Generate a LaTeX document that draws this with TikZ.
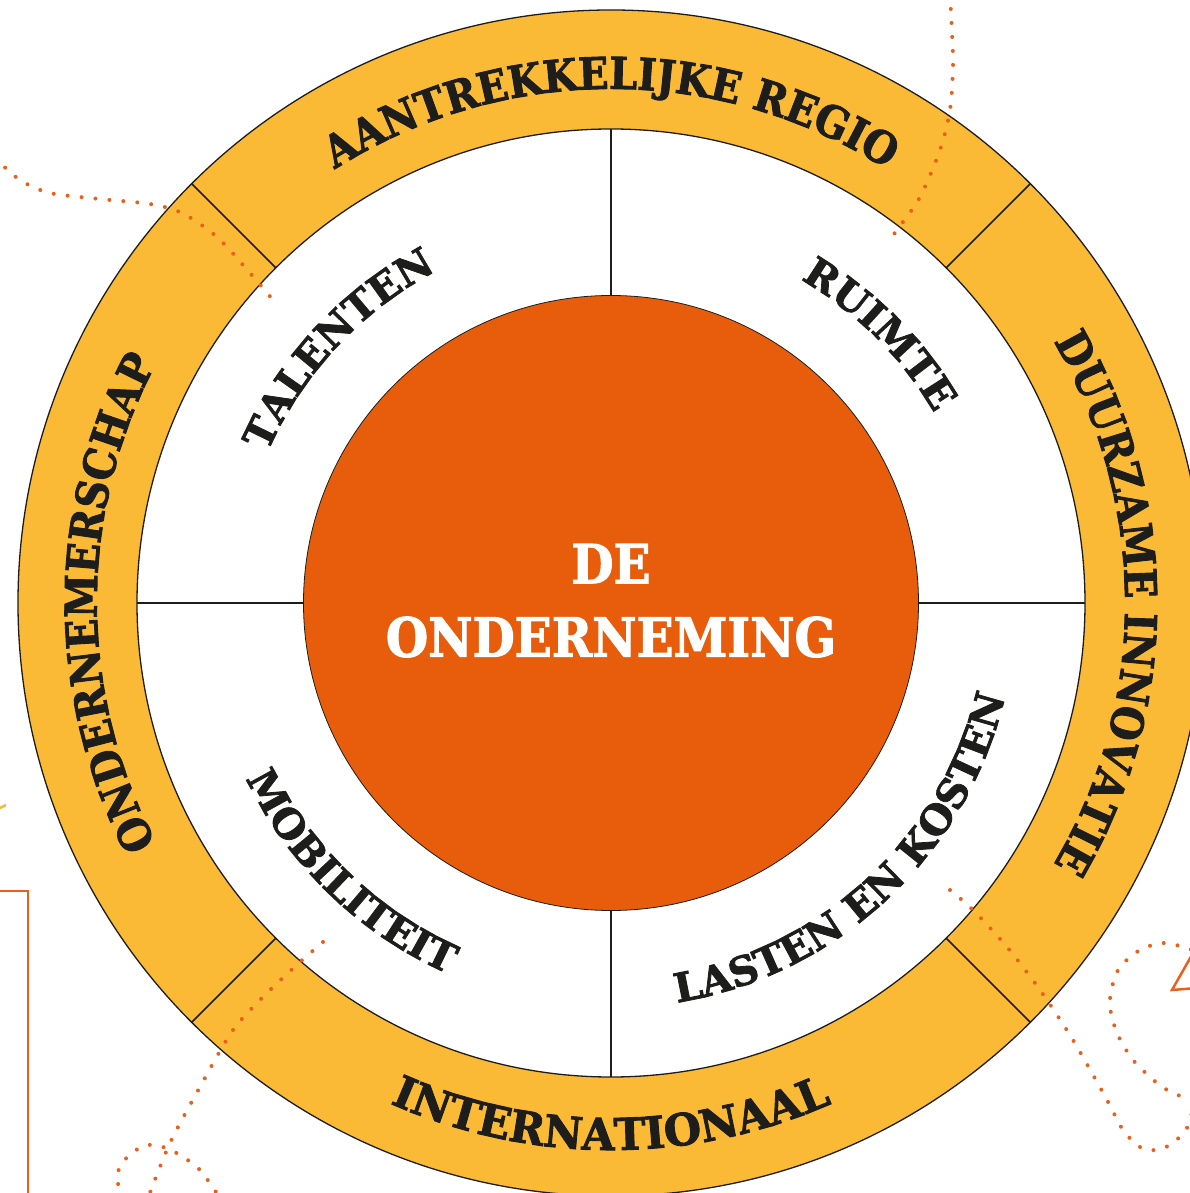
\documentclass[tikz,border=0pt]{standalone}
\usepackage{fontspec}
\newfontfamily\slab{DejaVu Serif}[FakeBold=2]
\newfontfamily\slabn{DejaVu Serif}[FakeStretch=0.9, FakeBold=2]
\newfontfamily\slabm{DejaVu Serif}[FakeStretch=0.97, FakeBold=2]
\usetikzlibrary{decorations.text}
\definecolor{ringyellow}{HTML}{FBBA36}
\definecolor{coreorange}{HTML}{E85D0C}
\definecolor{ink}{HTML}{1D1D1B}
\definecolor{dotorange}{HTML}{E8601C}
\newcommand\ringfont{\slabn\bfseries\fontsize{44}{44}\selectfont}
\newcommand\ringfontwide{\slabm\bfseries\fontsize{44}{44}\selectfont}
\newcommand\innerfont{\slab\bfseries\fontsize{40}{40}\selectfont}
\tikzset{
  ringtext/.style={decorate, decoration={text along path, text align=center, text color=ink, text={|\ringfont|#1}}},
  ringtextwide/.style={decorate, decoration={text along path, text align=center, text color=ink, text={|\ringfontwide|#1}}},
  innertext/.style={decorate, decoration={text along path, text align=center, text color=ink, text={|\innerfont|#1}}},
  divider/.style={draw=ink, line width=1.5pt},
  edge/.style={draw=ink, line width=1.3pt},
  centertext/.style={text=white, font=\slabn\bfseries\fontsize{54}{54}\selectfont, inner sep=0pt},
  dotline/.style={draw=dotorange, line width=4pt, line cap=round, dash pattern=on 0pt off 14pt},
  frameline/.style={draw=dotorange, line width=2.5pt}
}
\begin{document}
\begin{tikzpicture}[x=1pt,y=1pt]
\useasboundingbox (-611,-590) rectangle (578,603);
\fill[white] (-611,-590) rectangle (578,603);
% rings
\draw[edge, fill=ringyellow] (0,0) circle[radius=593];
\draw[edge, fill=white] (0,0) circle[radius=474];
\foreach \a in {45,135,225,315} \draw[divider] (\a:474) -- (\a:593);
\foreach \a in {0,90,180,270} \draw[divider] (\a:307.5) -- (\a:474);
\node[circle, fill=coreorange, draw=ink, line width=0.8pt, minimum size=615pt, inner sep=0pt] (core) at (0,0) {};
\node[centertext, anchor=base] (de) at (0,19.7) {DE};
\node[centertext, anchor=base] (onder) at (0,-53.7) {ONDERNEMING};
% outer ring labels
\path[ringtext={AANTREKKELIJKE REGIO}] (150:514) arc[start angle=150, end angle=30, radius=514];
\path[ringtext={DUURZAME INNOVATIE}] (60:514) arc[start angle=60, end angle=-60, radius=514];
\path[ringtext={ONDERNEMERSCHAP}] (240:514) arc[start angle=240, end angle=120, radius=514];
\path[ringtextwide={INTERNATIONAAL}] (220:547) arc[start angle=220, end angle=320, radius=547];
% inner ring labels
\path[innertext={TALENTEN}] (187:375) arc[start angle=187, end angle=87, radius=375];
\path[innertext={RUIMTE}] (95:375) arc[start angle=95, end angle=-5, radius=375];
\path[innertext={MOBILITEIT}] (176:405) arc[start angle=176, end angle=276, radius=405];
\path[innertext={LASTEN EN KOSTEN}] (263:405) arc[start angle=263, end angle=363, radius=405];
% decorations in pixel coordinates
\begin{scope}[shift={(-611,603)}, yscale=-1]
  \draw[dotline] plot[smooth] coordinates {(-5,158) (20,180) (50,193) (100,199) (150,204) (182,213) (217,237) (250,273) (273,300)};
  \draw[dotline] plot[smooth] coordinates {(950,-5) (952,33) (953,67) (950,110) (940,150) (920,197) (897,230) (887,243)};
  \draw[dotline] plot[smooth] coordinates {(323,942) (300,962) (267,993) (233,1030) (200,1087) (170,1143) (148,1198)};
  \draw[dotline] plot[smooth] coordinates {(119,1198) (118,1173) (123,1162) (133,1152) (147,1145) (163,1147) (180,1155) (200,1170) (220,1198)};
  \draw[dotline] plot[smooth] coordinates {(950,890) (973,910) (1007,947) (1040,990) (1073,1040) (1107,1100) (1123,1130) (1140,1147) (1157,1150) (1173,1143) (1187,1128) (1192,1112)};
  \draw[dotline] plot[smooth] coordinates {(1192,1100) (1173,1093) (1157,1083) (1133,1060) (1117,1033) (1110,1007) (1112,987) (1120,967) (1140,950) (1163,943) (1187,948) (1195,952)};
  \draw[frameline] (1197,946) -- (1172,990) -- (1197,988);
  \draw[frameline] (-5,891) -- (28,891) -- (28,1200);
  \draw[draw=ringyellow, line width=2.5pt] (0,808) -- (6,805);
\end{scope}
\end{tikzpicture}
\end{document}
